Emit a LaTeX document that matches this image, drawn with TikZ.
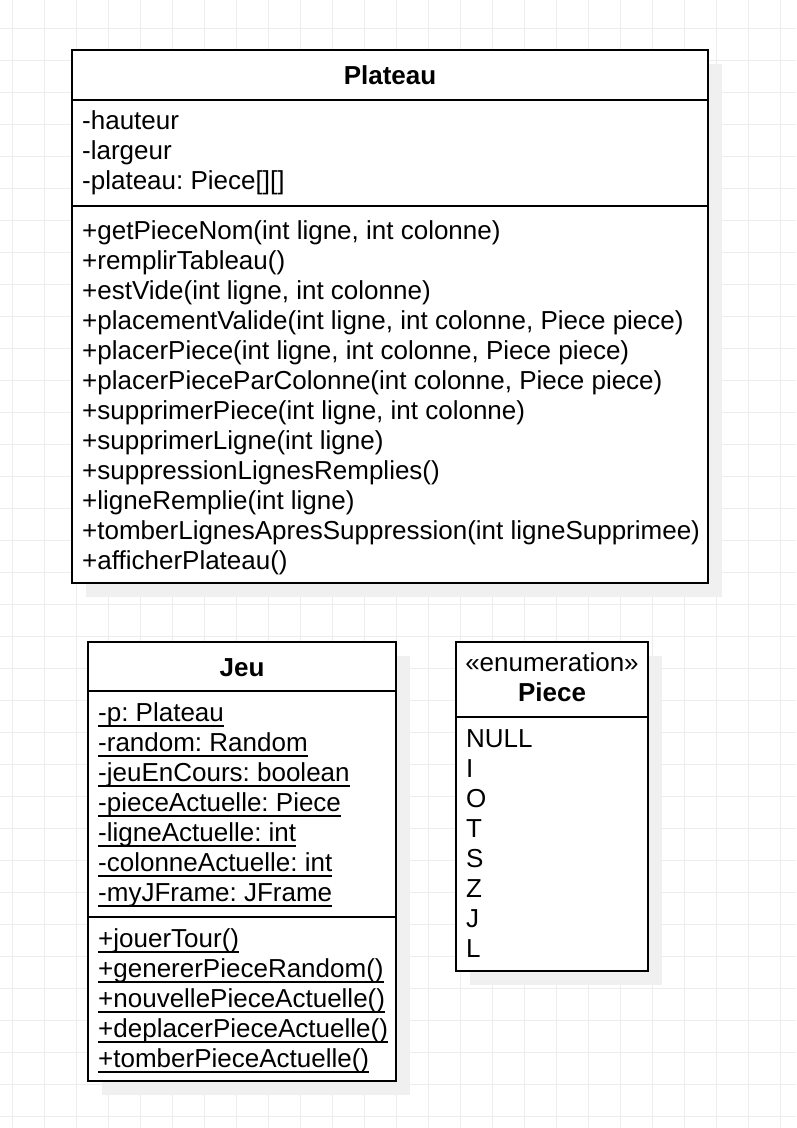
\documentclass[tikz,border=0pt]{standalone}
\usepackage{fontspec}
\setmainfont{Liberation Sans}
\usetikzlibrary{shadows}
\frenchspacing

% underlined (static) member
\newcommand\stmember[1]{\setbox0\hbox{#1}\rlap{\rule[-6pt]{\wd0}{2pt}}\box0}

\begin{document}
\begin{tikzpicture}[x=1pt,y=-1pt,
        every node/.style={inner sep=0pt, font=\fontsize{26}{30}\selectfont}]
      \tikzstyle{classbox} = [draw=black, line width=2pt, fill=white, anchor=north west, outer sep=0pt,
        drop shadow={shadow xshift=14pt, shadow yshift=-14pt, fill=black!6, opacity=1}]
      \tikzstyle{title} = [anchor=base, font=\fontsize{26}{30}\selectfont\bfseries]
      % placed at the baseline of the last line
      \tikzstyle{member} = [anchor=base west, align=left]
      \tikzstyle{sep} = [line width=2pt]
      \useasboundingbox (0,0) rectangle (796,1128);
      \fill[white] (0,0) rectangle (796,1128);
      % grid
      \foreach \x in {12,44,...,780} \draw[black!7, line width=1pt] (\x,0) -- (\x,1128);
      \foreach \y in {28,60,...,1116} \draw[black!7, line width=1pt] (0,\y) -- (796,\y);
      % Plateau
      \node (plateau) [classbox, minimum width=636, minimum height=533] at (72,50) {};
      \draw[sep] (72,100) -- (708,100) (72,206) -- (708,206);
      \node (plateauTitle) [title] at (390,84) {Plateau};
      \node (plateauAttr) [member] at (82,189) {-hauteur\\-largeur\\-plateau: Piece[][]};
      \node (plateauOps) [member] at (82,569) {+getPieceNom(int ligne, int colonne)\\
        +remplirTableau()\\
        +estVide(int ligne, int colonne)\\
        +placementValide(int ligne, int colonne, Piece piece)\\
        +placerPiece(int ligne, int colonne, Piece piece)\\
        +placerPieceParColonne(int colonne, Piece piece)\\
        +supprimerPiece(int ligne, int colonne)\\
        +supprimerLigne(int ligne)\\
        +suppressionLignesRemplies()\\
        +ligneRemplie(int ligne)\\
        +tomberLignesApresSuppression(int ligneSupprimee)\\
        +afficherPlateau()};
      % Jeu
      \node (jeu) [classbox, minimum width=308, minimum height=439] at (88,642) {};
      \draw[sep] (88,691) -- (396,691) (88,917) -- (396,917);
      \node (jeuTitle) [title] at (242,676) {Jeu};
      \node (jeuAttr) [member] at (98,901) {\stmember{-p: Plateau}\\
        \stmember{-random: Random}\\
        \stmember{-jeuEnCours: boolean}\\
        \stmember{-pieceActuelle: Piece}\\
        \stmember{-ligneActuelle: int}\\
        \stmember{-colonneActuelle: int}\\
        \stmember{-myJFrame: JFrame}};
      \node (jeuOps) [member] at (98,1067) {\stmember{+jouerTour()}\\
        \stmember{+genererPieceRandom()}\\
        \stmember{+nouvellePieceActuelle()}\\
        \stmember{+deplacerPieceActuelle()}\\
        \stmember{+tomberPieceActuelle()}};
      % Piece
      \node (piece) [classbox, minimum width=192, minimum height=329] at (456,642) {};
      \draw[sep] (456,717) -- (648,717);
      \node (pieceStereo) [anchor=base] at (552,671) {«enumeration»};
      \node (pieceTitle) [title] at (552,701) {Piece};
      \node (pieceValues) [member] at (466,957) {NULL\\I\\O\\T\\S\\Z\\J\\L};
    \end{tikzpicture}
\end{document}
